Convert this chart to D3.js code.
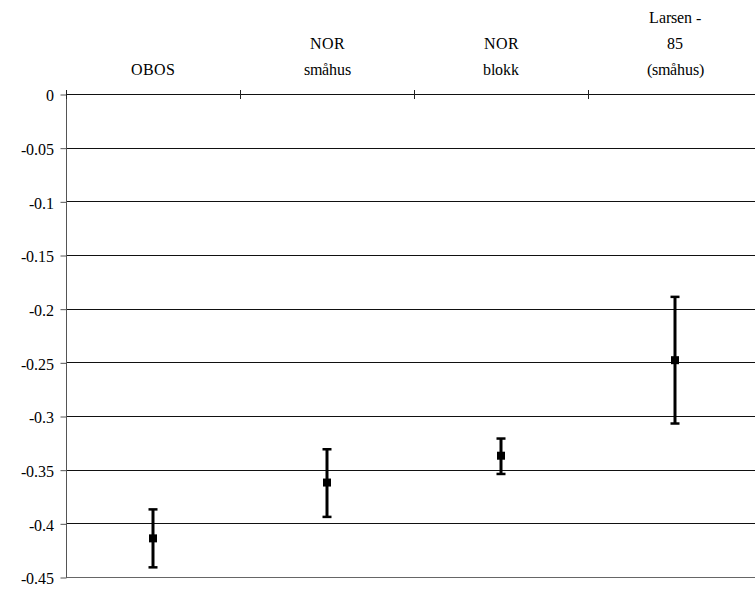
<!DOCTYPE html>
<html><head><meta charset="utf-8">
<script src="https://cdn.jsdelivr.net/npm/d3@7"></script>
<style>
@font-face{font-family:"RefSerif";src:local("Liberation Serif"),local("LiberationSerif"),local("LiberationSerif-Regular"),local("DejaVu Serif"),local("DejaVuSerif"),local("Times New Roman");}
html,body{margin:0;padding:0;background:#fff;}
svg{display:block;}
svg text{font-family:"RefSerif","Liberation Serif",serif;}
</style></head>
<body>
<svg id="chart" width="755" height="589"></svg>
<script>
const categories = ["OBOS", "NOR\nsmåhus", "NOR\nblokk", "Larsen -\n85\n(småhus)"];
const means = [-0.414, -0.362, -0.337, -0.248];
const upper = [-0.387, -0.331, -0.321, -0.189];
const lower = [-0.441, -0.394, -0.354, -0.307];
const yTicks = [0, -0.05, -0.1, -0.15, -0.2, -0.25, -0.3, -0.35, -0.4, -0.45];

const svg = d3.select("#chart");
const mLeft = 66, mRight = 762, mTop = 94, mBottom = 577;

const x = d3.scaleBand().domain(categories).range([mLeft, mRight]).paddingInner(0).paddingOuter(0);
const y = d3.scaleLinear().domain([-0.45, 0]).range([mBottom, mTop]);

// gridlines
svg.append("g").selectAll("line").data(yTicks).join("line")
  .attr("x1", mLeft).attr("x2", mRight)
  .attr("y1", d => Math.round(y(d)) + 0.5).attr("y2", d => Math.round(y(d)) + 0.5)
  .attr("stroke", d => d === -0.45 ? "#666" : "#111").attr("stroke-width", 1);

// y axis
const yAxis = d3.axisLeft(y).tickValues(yTicks).tickSize(6).tickPadding(7)
  .tickFormat(d => d === 0 ? "0" : String(d));
const gy = svg.append("g").attr("transform", `translate(${mLeft + 0.5},0.5)`).call(yAxis)
  .attr("font-family", null).attr("font-size", 16);
gy.select(".domain").attr("stroke", "#555").attr("d", `M0,${mTop}V${mBottom}`);
gy.selectAll(".tick line").attr("stroke", "#555");
gy.selectAll(".tick text").attr("fill", "#000").attr("dy", "0.4em");

// top axis ticks at band boundaries (crossing the zero line)
const bounds = categories.map(c => x(c));
svg.append("g").selectAll("line").data(bounds).join("line")
  .attr("x1", d => Math.round(d) + 0.5).attr("x2", d => Math.round(d) + 0.5)
  .attr("y1", mTop - 4).attr("y2", mTop + 5)
  .attr("stroke", "#222").attr("stroke-width", 1);

// category labels
const lineH = 26;
const lg = svg.append("g").attr("font-size", 16);
categories.forEach(c => {
  const lines = c.split("\n");
  const cx = x(c) + x.bandwidth() / 2;
  const t = lg.append("text").attr("text-anchor", "middle").attr("fill", "#000");
  lines.forEach((ln, i) => {
    t.append("tspan").attr("x", cx)
      .attr("y", 75 - (lines.length - 1 - i) * lineH).text(ln);
  });
});

// error bars
const g = svg.append("g");
categories.forEach((c, i) => {
  const cx = Math.round(x(c) + x.bandwidth() / 2);
  g.append("line").attr("x1", cx).attr("x2", cx)
    .attr("y1", y(upper[i])).attr("y2", y(lower[i]))
    .attr("stroke", "#000").attr("stroke-width", 3);
  [upper[i], lower[i]].forEach(v => {
    g.append("line").attr("x1", cx - 4.5).attr("x2", cx + 4.5)
      .attr("y1", y(v)).attr("y2", y(v))
      .attr("stroke", "#000").attr("stroke-width", 2.5);
  });
  g.append("rect").attr("x", cx - 4).attr("y", y(means[i]) - 4)
    .attr("width", 8).attr("height", 8).attr("fill", "#000");
});
</script>
</body></html>
